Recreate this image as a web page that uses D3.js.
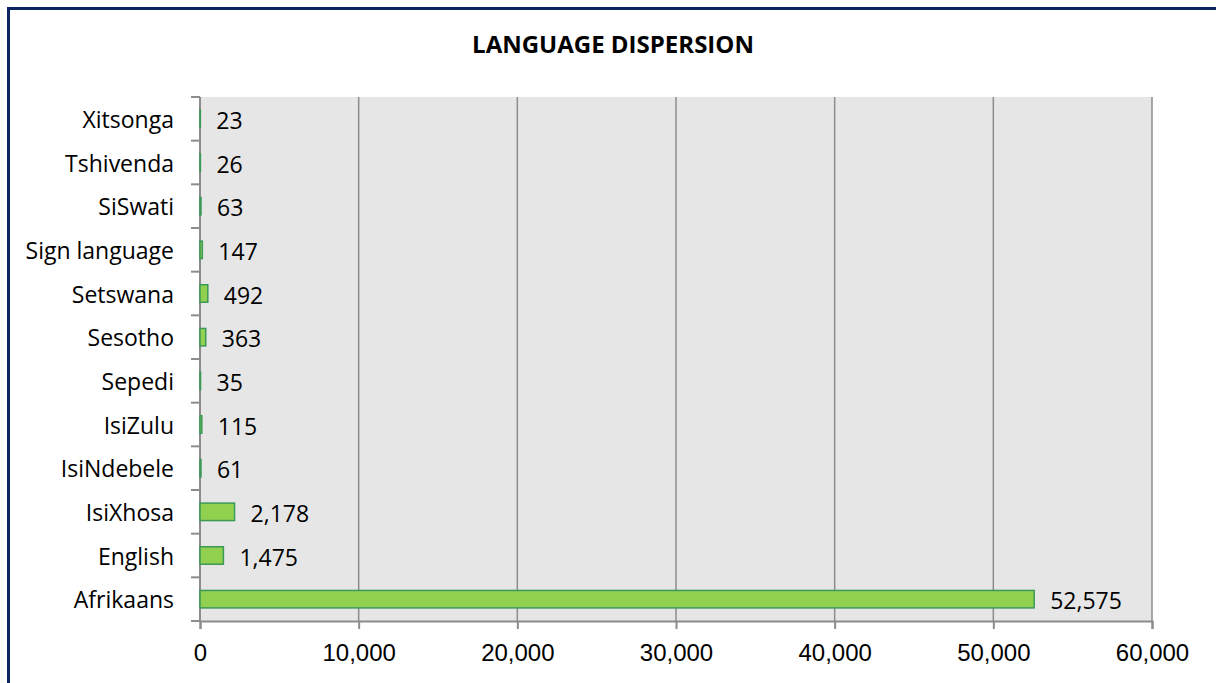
<!DOCTYPE html>
<html>
<head>
<meta charset="utf-8">
<script src="https://cdn.jsdelivr.net/npm/d3@7"></script>
<style>
  html, body { margin: 0; padding: 0; background: #fff; }
  svg { display: block; font-family: "Open Sans", sans-serif; }
</style>
</head>
<body>
<script>
// languages, bottom to top as in the chart
const languages = ["Afrikaans", "English", "IsiXhosa", "IsiNdebele", "IsiZulu", "Sepedi",
  "Sesotho", "Setswana", "Sign language", "SiSwati", "Tshivenda", "Xitsonga"]
const speakers = [52575, 1475, 2178, 61, 115, 35, 363, 492, 147, 63, 26, 23]
const xTicks = [0, 10000, 20000, 30000, 40000, 50000, 60000]

const width = 1216
const height = 683
const plot = { left: 200, right: 1152, top: 97, bottom: 621 }

const rows = languages.map((name, i) => ({ name: name, value: speakers[i] }))

const svg = d3.select("body").append("svg")
    .attr("width", width)
    .attr("height", height)

// outer frame (only top and left edges show)
svg.append("rect")
    .attr("x", 8.5).attr("y", 8.5)
    .attr("width", width + 20).attr("height", height + 20)
    .attr("fill", "none")
    .attr("stroke", "#0c2461")
    .attr("stroke-width", 3)

svg.append("text")
    .attr("x", 613).attr("y", 47)
    .attr("text-anchor", "middle")
    .attr("dominant-baseline", "middle")
    .style("font-weight", "bold")
    .style("font-size", "24px")
    .attr("fill", "#000")
    .text("LANGUAGE DISPERSION")

const x = d3.scaleLinear().domain([0, 60000]).range([plot.left, plot.right])
// reversed so first category sits at the bottom
const y = d3.scaleBand()
    .domain(languages.slice().reverse())
    .range([plot.top, plot.bottom])
    .paddingInner(0.6)
    .paddingOuter(0.3)

svg.append("rect")
    .attr("x", plot.left).attr("y", plot.top)
    .attr("width", plot.right - plot.left)
    .attr("height", plot.bottom - plot.top)
    .attr("fill", "#e6e6e6")

// vertical gridlines
svg.append("g")
    .selectAll("line")
    .data(xTicks.slice(1))
    .enter().append("line")
    .attr("x1", d => x(d)).attr("x2", d => x(d))
    .attr("y1", plot.top).attr("y2", plot.bottom)
    .attr("stroke", "#8c8c8c")
    .attr("stroke-width", 1.5)

// x axis
const xAxis = svg.append("g")
    .attr("transform", `translate(0,${plot.bottom})`)
    .call(d3.axisBottom(x).tickValues(xTicks).tickFormat(d3.format(",")).tickSize(8).tickPadding(15))
xAxis.select(".domain").attr("stroke", "#8c8c8c").attr("stroke-width", 2)
xAxis.selectAll(".tick line").attr("stroke", "#8c8c8c").attr("stroke-width", 2)
xAxis.selectAll("text").style("font-size", "24px").attr("fill", "#000")

// y axis: ticks between categories
const yAxis = svg.append("g").attr("transform", `translate(${plot.left},0)`)
yAxis.append("line")
    .attr("x1", 0).attr("x2", 0)
    .attr("y1", plot.top).attr("y2", plot.bottom)
    .attr("stroke", "#8c8c8c").attr("stroke-width", 2)
yAxis.selectAll(".sep")
    .data(d3.range(languages.length + 1))
    .enter().append("line")
    .attr("class", "sep")
    .attr("x1", -9).attr("x2", 0)
    .attr("y1", i => plot.top + i * (plot.bottom - plot.top) / languages.length)
    .attr("y2", i => plot.top + i * (plot.bottom - plot.top) / languages.length)
    .attr("stroke", "#8c8c8c").attr("stroke-width", 2)
yAxis.selectAll(".lbl")
    .data(languages)
    .enter().append("text")
    .attr("class", "lbl")
    .attr("x", -26)
    .attr("y", d => y(d) + y.bandwidth() / 2)
    .attr("text-anchor", "end")
    .attr("dominant-baseline", "central")
    .style("font-size", "23px")
    .attr("fill", "#000")
    .text(d => d)

// bars
svg.append("g")
    .selectAll("rect")
    .data(rows)
    .enter().append("rect")
    .attr("x", x(0))
    .attr("y", d => y(d.name))
    .attr("width", d => x(d.value) - x(0))
    .attr("height", y.bandwidth())
    .attr("fill", "#92d050")
    .attr("stroke", "#3b9a57")
    .attr("stroke-width", 1.5)

// value labels
svg.append("g")
    .selectAll("text")
    .data(rows)
    .enter().append("text")
    .attr("x", d => x(d.value) + 16)
    .attr("y", d => y(d.name) + y.bandwidth() / 2 + 1)
    .attr("dominant-baseline", "central")
    .style("font-size", "23px")
    .attr("fill", "#000")
    .text(d => d3.format(",")(d.value))
</script>
</body>
</html>
